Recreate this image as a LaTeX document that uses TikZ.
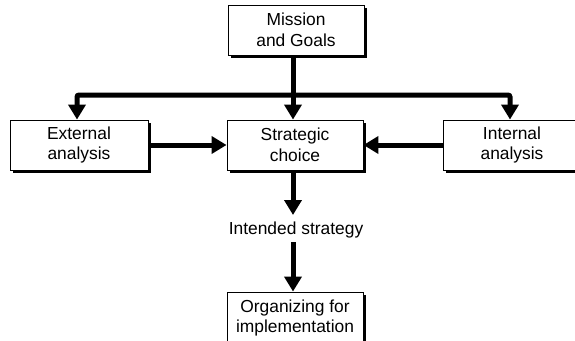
\documentclass[tikz,border=0pt]{standalone}
\usepackage{fontspec}
\setmainfont{Liberation Sans}
\usetikzlibrary{arrows.meta,shadows}
\begin{document}
\begin{tikzpicture}[x=1pt,y=-1pt,
  box/.style={draw=black, line width=0.9pt, fill=white, minimum width=136pt, minimum height=50pt,
    align=center, inner sep=0pt, font=\fontsize{17.4}{20.5}\selectfont,
    drop shadow={shadow xshift=2.5pt, shadow yshift=-2.5pt, fill=black, opacity=1}},
  lbl/.style={font=\fontsize{17.4}{20.5}\selectfont, inner sep=0pt},
  flow/.style={line width=5pt, -{Triangle[width=17pt,length=15pt]}},
  plain/.style={line width=5pt}]
\useasboundingbox (0,0) rectangle (575,340);
\clip (0,0) rectangle (575,340);
\node[box] (mission) at (296,30) {Mission\\and Goals};
\node[box, minimum width=138pt] (ext) at (79,145) {External\\analysis};
\node[box] (strat) at (295,145) {Strategic\\choice};
\node[box, minimum width=138pt] (int) at (512,145) {Internal\\analysis};
\node[lbl] (intended) at (296,230) {Intended strategy};
\node[box, minimum height=52pt] (org) at (295,318) {Organizing for\\implementation};
\coordinate (j) at (293,95);
\draw[flow] (293,0 |- mission.south) -- (293,0 |- strat.north);
\draw[flow, rounded corners=2pt] (j) -| (77,0 |- ext.north);
\draw[flow, rounded corners=2pt] (j) -| (510,0 |- int.north);
\draw[flow] (ext.east) -- (strat.west);
\draw[flow] (int.west) -- (strat.east);
\draw[flow] (293,0 |- strat.south) -- (293,215);
\draw[flow] (293,242) -- (293,0 |- org.north);
\end{tikzpicture}
\end{document}
